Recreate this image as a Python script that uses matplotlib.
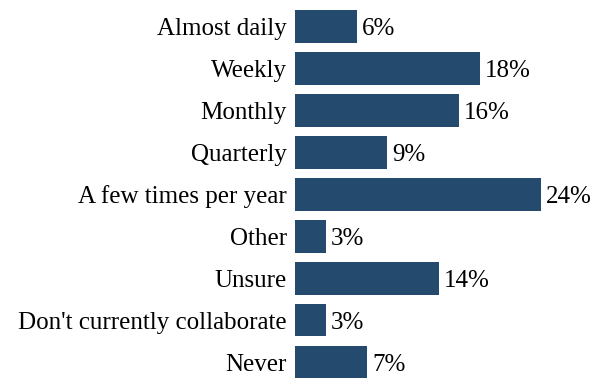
import matplotlib.pyplot as plt

categories = ['Almost daily', 'Weekly', 'Monthly', 'Quarterly', 'A few times per year',
              'Other', 'Unsure', "Don't currently collaborate", 'Never']
values = [6, 18, 16, 9, 24, 3, 14, 3, 7]

plt.rcParams['font.family'] = ['Liberation Serif', 'DejaVu Serif']

fig = plt.figure(figsize=(6.13, 3.78), dpi=100)
ax = fig.add_axes([295 / 613, 0, 318 / 613, 1])

y = list(range(len(categories)))
ax.barh(y, values, height=0.78, color='#244a6e')
for yi, v in zip(y, values):
    ax.text(v + 0.5, yi, f'{v}%', va='center_baseline', ha='left', fontsize=18)

ax.set_xlim(0, 318 / 10.25)
ax.set_ylim(8.38, -0.63)
ax.set_yticks(y)
ax.set_yticklabels(categories, fontsize=18, va='center_baseline')
ax.tick_params(axis='y', length=0, pad=6)
ax.set_xticks([])
for s in ax.spines.values():
    s.set_visible(False)

fig.savefig('out.png', dpi=100)
